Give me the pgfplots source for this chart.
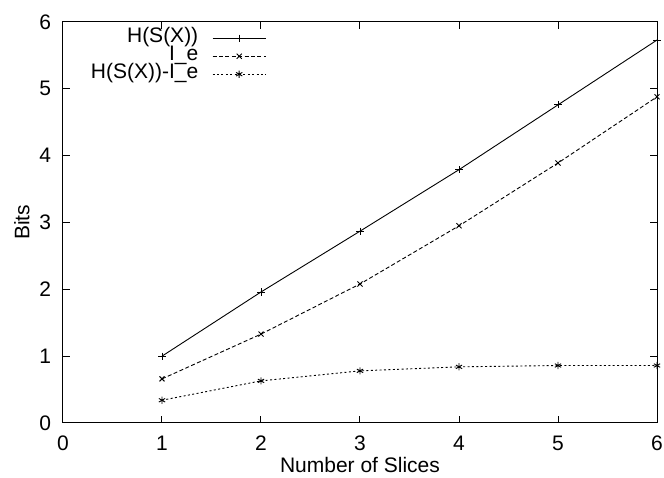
\documentclass[border=0pt]{standalone}
\usepackage{fontspec}
\setmainfont{Liberation Sans}
\usepackage{pgfplots}
\pgfplotsset{compat=1.18}

\pgfplotsset{
  gpline/.style={
    legend image code/.code={
      \draw[mark repeat=2, mark phase=2]
        plot coordinates {(0pt,0pt) (13.25pt,0pt) (26.5pt,0pt)};
    },
  },
}

\begin{document}
\begin{tikzpicture}
\begin{axis}[
  name=ax,
  scale only axis,
  width=297pt, height=200.5pt,
  xmin=0, xmax=6, ymin=0, ymax=6,
  xtick={0,...,6}, ytick={0,...,6},
  major tick length=3.5pt,
  tick style={black, line width=0.5pt},
  axis line style={line width=0.5pt},
  every tick label/.append style={font=\fontsize{10.5}{12}\selectfont},
  xticklabel style={yshift=-3pt},
  yticklabel style={xshift=-2.5pt},
  /pgf/number format/assume math mode=true,
  xlabel={Number of Slices},
  ylabel={Bits},
  label style={font=\fontsize{10.5}{12}\selectfont},
  xlabel style={yshift=3.5pt},
  ylabel style={yshift=-2pt},
  legend plot pos=right,
  legend cell align=right,
  legend style={
    at={(axis description cs:0.342,0.981)}, anchor=north east,
    draw=none, fill=none,
    font=\fontsize{10.5}{11}\selectfont,
    inner sep=0pt, outer sep=0pt,
    row sep=0.4pt,
    nodes={inner sep=0pt, text height=6.6pt, text depth=2pt},
    /tikz/every odd column/.append style={column sep=7pt},
  },
  every axis plot/.append style={line width=0.45pt, gpline},
]
\addplot[black, mark=+, mark size=1.8pt, mark options={solid}]
  coordinates {(1,1.00) (2,1.96) (3,2.87) (4,3.79) (5,4.76) (6,5.73)};
\addlegendentry{H(S(X))}
\addplot[black, dash pattern=on 2pt off 1.2pt, mark=x, mark size=1.8pt, mark options={solid}]
  coordinates {(1,0.66) (2,1.33) (3,2.08) (4,2.95) (5,3.89) (6,4.88)};
\addlegendentry{I\_e}
\addplot[black, dash pattern=on 1pt off 1.2pt, mark=asterisk, mark size=1.8pt, mark options={solid}]
  coordinates {(1,0.34) (2,0.63) (3,0.78) (4,0.84) (5,0.86) (6,0.86)};
\addlegendentry{H(S(X))-I\_e}
\end{axis}
\pgfresetboundingbox
\path (ax.south west) ++(-31.5pt,-27.5pt) coordinate (bl);
\path (ax.north east) ++(3.5pt,11pt) coordinate (tr);
\path[use as bounding box] (bl) rectangle (tr);
\end{tikzpicture}
\end{document}
